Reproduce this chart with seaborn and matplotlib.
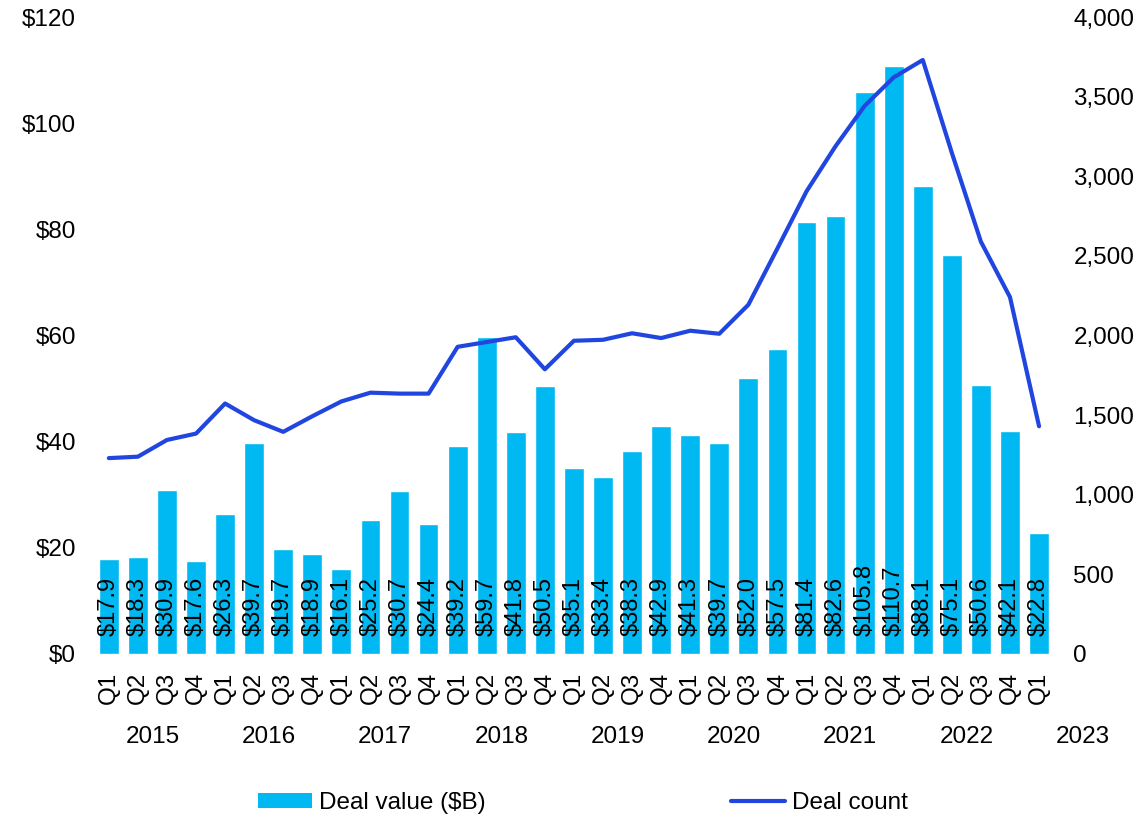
import numpy as np
import pandas as pd
import matplotlib.pyplot as plt
import seaborn as sns
from matplotlib.patches import Patch
from matplotlib.lines import Line2D

# Quarterly deal data, 2015 Q1 - 2023 Q1
years = ["2015", "2016", "2017", "2018", "2019", "2020", "2021", "2022", "2023"]
quarters = ["Q1", "Q2", "Q3", "Q4"] * 8 + ["Q1"]
deal_value = [17.9, 18.3, 30.9, 17.6, 26.3, 39.7, 19.7, 18.9, 16.1, 25.2, 30.7, 24.4,
              39.2, 59.7, 41.8, 50.5, 35.1, 33.4, 38.3, 42.9, 41.3, 39.7, 52.0, 57.5,
              81.4, 82.6, 105.8, 110.7, 88.1, 75.1, 50.6, 42.1, 22.8]
deal_count = [1230, 1239, 1344, 1384, 1573, 1468, 1395, 1493, 1586, 1641, 1635, 1635,
              1929, 1959, 1989, 1788, 1967, 1973, 2014, 1984, 2030, 2011, 2193, 2547,
              2905, 3189, 3442, 3621, 3730, 3147, 2589, 2241, 1430]

bar_color = "#00B9F2"
line_color = "#2146E0"
fs = 17.5

sns.set_style("white")
plt.rcParams["font.family"] = ["Liberation Sans", "DejaVu Sans"]
plt.rcParams["font.size"] = fs
plt.rcParams["text.color"] = "black"
plt.rcParams["xtick.color"] = "black"
plt.rcParams["ytick.color"] = "black"

df = pd.DataFrame({
    "period": [f"{years[i // 4]} {q}" for i, q in enumerate(quarters)],
    "pos": np.arange(len(quarters)),
    "value": deal_value,
    "count": deal_count,
})

fig = plt.figure(figsize=(11.4, 8.18), dpi=100)
ax = fig.add_axes([0.0776, 0.2005, 0.8517, 0.7787])

sns.barplot(data=df, x="period", y="value", color=bar_color, width=0.68,
            saturation=1, ax=ax)
ax.set_ylim(0, 120)
ax.set_yticks(range(0, 121, 20))
ax.set_yticklabels([f"${v}" for v in range(0, 121, 20)])
ax.set_xlim(-0.7, len(df) - 0.3)
ax.set_xticks(df["pos"])
ax.set_xticklabels(quarters, rotation=90)
ax.set_xlabel("")
ax.set_ylabel("")
ax.tick_params(axis="both", length=0, labelsize=fs)
ax.tick_params(axis="x", pad=13)
ax.tick_params(axis="y", pad=9)

for i, v in enumerate(deal_value):
    ax.text(i, 3.4, f"${v:.1f}", rotation=90, ha="center", va="bottom",
            fontsize=17, color="black")

# year labels under each group of quarters
for k, yr in enumerate(years):
    ax.text(k * 4 + 1.5, -0.13, yr, transform=ax.get_xaxis_transform(),
            ha="center", va="center", fontsize=fs, clip_on=False)

ax2 = ax.twinx()
sns.lineplot(data=df, x="pos", y="count", color=line_color, linewidth=3, ax=ax2)
ax2.set_ylim(0, 4000)
ax2.set_yticks(range(0, 4001, 500))
ax2.set_yticklabels([f"{v:,}" for v in range(0, 4001, 500)])
ax2.set_ylabel("")
ax2.set_xlabel("")
ax2.tick_params(axis="y", length=0, labelsize=fs, pad=10)

for a in (ax, ax2):
    for s in a.spines.values():
        s.set_visible(False)

handles = [Patch(facecolor=bar_color, edgecolor="none"),
           Line2D([0], [0], color=line_color, linewidth=3)]
fig.legend(handles, ["Deal value ($B)", "Deal count"], loc="center",
           bbox_to_anchor=(583 / 1140, 1 - 803 / 818), ncol=2, frameon=False,
           handlelength=2.2, handleheight=0.55, handletextpad=0.3,
           columnspacing=10.1, fontsize=fs)

fig.savefig("out.png", dpi=100)
